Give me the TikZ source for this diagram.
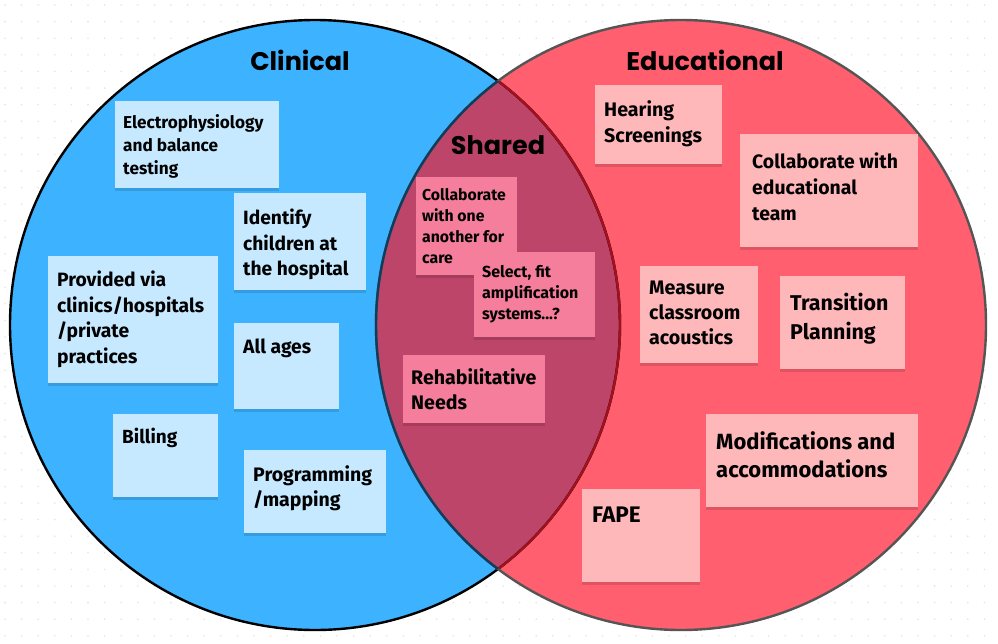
\documentclass[tikz,border=0pt]{standalone}
\usepackage{fontspec}
\setmainfont{Fira Sans}
\newfontfamily\titlefont{Poppins}
\usetikzlibrary{shadows}
\definecolor{bluefill}{HTML}{3DB2FF}
\definecolor{redfill}{HTML}{FF5F6E}
\definecolor{sharedfill}{HTML}{BD4569}
\definecolor{bluesticky}{HTML}{C6E9FF}
\definecolor{redsticky}{HTML}{FFB8BA}
\definecolor{sharedsticky}{HTML}{F57E9C}
\definecolor{redline}{HTML}{555555}
\definecolor{blueinred}{HTML}{A3111F}
\definecolor{redinblue}{HTML}{0F3D5C}
\definecolor{dotc}{HTML}{E4E4E4}
\newcommand\stfont[2]{\fontsize{#1}{#2}\selectfont}
\tikzset{
  sticky/.style={anchor=north west, inner sep=0pt, outer sep=0pt, fill=#1,
    drop shadow={shadow xshift=0pt, shadow yshift=-2.5pt, opacity=0.12, fill=black}},
  stext/.style={anchor=north west, inner sep=0pt, align=left, text=black},
  vtitle/.style={font=\titlefont\bfseries\fontsize{25.5}{30}\selectfont, text=black, inner sep=0pt},
}
\begin{document}
\begin{tikzpicture}[x=1pt,y=-1pt]
\useasboundingbox (0,0) rectangle (998,643);
\fill[white] (0,0) rectangle (998,643);
% dot grid
\foreach \i in {0,...,60}{
  \foreach \j in {0,...,39}{
    \fill[dotc] (5+16.6*\i,5+16.6*\j) circle (0.9pt);
  }
}
% circles
\fill[bluefill] (315,325) circle (305pt);
\fill[redfill] (681,325) circle (305pt);
\begin{scope}
  \clip (315,325) circle (305pt);
  \fill[sharedfill] (681,325) circle (305pt);
\end{scope}
\draw[line width=2.4pt, black] (315,325) circle (305pt);
\begin{scope}
  \clip (681,325) circle (305pt);
  \draw[line width=2.4pt, blueinred] (315,325) circle (305pt);
\end{scope}
\draw[line width=2.4pt, redline] (681,325) circle (305pt);
\begin{scope}
  \clip (315,325) circle (305pt);
  \draw[line width=2.4pt, redinblue] (681,325) circle (305pt);
\end{scope}
% titles
\node[vtitle] (tclin) at (300,60) {Clinical};
\node[vtitle] (tedu) at (705,60) {Educational};
\node[vtitle] (tshared) at (498,145) {Shared};
% clinical stickies
\node[sticky=bluesticky, minimum width=164pt, minimum height=87pt] (s1) at (115,101) {};
\node[stext, font=\bfseries\stfont{17.2}{23}] (s1t) at (123,114) {Electrophysiology\\and balance\\testing};
\node[sticky=bluesticky, minimum width=132pt, minimum height=97pt] (s2) at (234,193) {};
\node[stext, font=\bfseries\stfont{19.2}{25.5}] (s2t) at (243,209) {Identify\\children at\\the hospital};
\node[sticky=bluesticky, minimum width=170pt, minimum height=127pt] (s3) at (48,256) {};
\node[stext, font=\bfseries\stfont{19.3}{25.5}] (s3t) at (57,271) {Provided via\\clinics/hospitals\\/private\\practices};
\node[sticky=bluesticky, minimum width=105pt, minimum height=86pt] (s4) at (234,323) {};
\node[stext, font=\bfseries\stfont{19.3}{25}] (s4t) at (243,339) {All ages};
\node[sticky=bluesticky, minimum width=105pt, minimum height=83pt] (s5) at (113,414) {};
\node[stext, font=\bfseries\stfont{19}{25}] (s5t) at (122,428) {Billing};
\node[sticky=bluesticky, minimum width=142pt, minimum height=83pt] (s6) at (244,450) {};
\node[stext, font=\bfseries\stfont{19.5}{25}] (s6t) at (253,465) {Programming\\/mapping};
% shared stickies
\node[sticky=sharedsticky, minimum width=101pt, minimum height=98pt] (s7) at (416,177) {};
\node[stext, font=\bfseries\stfont{15.8}{21}] (s7t) at (422,188) {Collaborate\\with one\\another for\\care};
\node[sticky=sharedsticky, minimum width=121pt, minimum height=85pt] (s8) at (474,252) {};
\node[stext, font=\bfseries\stfont{16}{21}] (s8t) at (482,265) {Select, fit\\amplification\\systems...?};
\node[sticky=sharedsticky, minimum width=142pt, minimum height=68pt] (s9) at (403,355) {};
\node[stext, font=\bfseries\stfont{19.6}{25}] (s9t) at (411,368) {Rehabilitative\\Needs};
% educational stickies
\node[sticky=redsticky, minimum width=127pt, minimum height=79pt] (s10) at (595,85) {};
\node[stext, font=\bfseries\stfont{19.6}{26}] (s10t) at (604,100) {Hearing\\Screenings};
\node[sticky=redsticky, minimum width=178pt, minimum height=113pt] (s11) at (740,134) {};
\node[stext, font=\bfseries\stfont{19.4}{26}] (s11t) at (752,153) {Collaborate with\\educational\\team};
\node[sticky=redsticky, minimum width=118pt, minimum height=97pt] (s12) at (640,266) {};
\node[stext, font=\bfseries\stfont{19.6}{25}] (s12t) at (649,281) {Measure\\classroom\\acoustics};
\node[sticky=redsticky, minimum width=125pt, minimum height=93pt] (s13) at (780,276) {};
\node[stext, font=\bfseries\stfont{21.4}{29}] (s13t) at (790,293) {Transition\\Planning};
\node[sticky=redsticky, minimum width=212pt, minimum height=93pt] (s14) at (706,414) {};
\node[stext, font=\bfseries\stfont{22}{28}] (s14t) at (716,431) {Modifications and\\accommodations};
\node[sticky=redsticky, minimum width=118pt, minimum height=93pt] (s15) at (582,489) {};
\node[stext, font=\bfseries\stfont{22.5}{28}] (s15t) at (592,507) {FAPE};
\end{tikzpicture}
\end{document}
